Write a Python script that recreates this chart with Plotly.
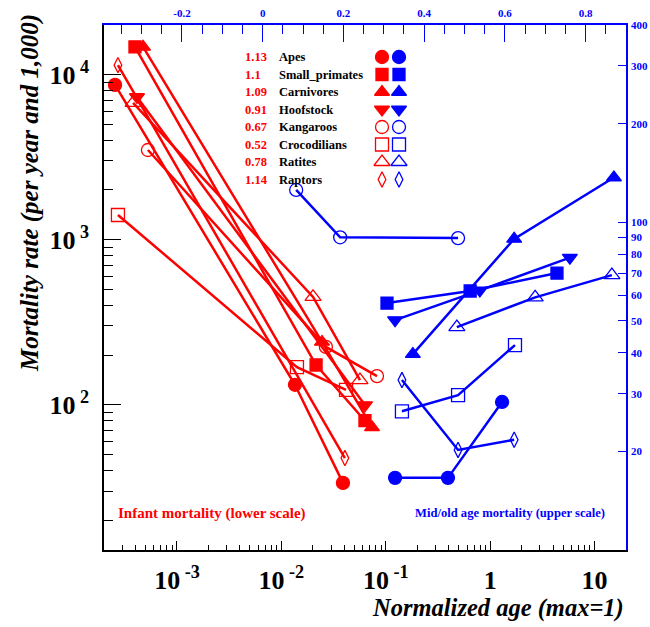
import numpy as np
import plotly.graph_objects as go

# ---------------- data ----------------
groups = ["Apes", "Small_primates", "Carnivores", "Hoofstock",
          "Kangaroos", "Crocodilians", "Ratites", "Raptors"]
slopes = ["1.13", "1.1", "1.09", "0.91", "0.67", "0.52", "0.78", "1.14"]
symbols = ["circle", "square", "triangle-up", "triangle-down",
           "circle-open", "square-open", "triangle-up-open", "diamond-tall-open"]
sizes = [13, 12, 13, 13, 13, 13, 14, 11]

# infant mortality (lower scale)
infant_age = [
    [2.55e-4, 0.0135, 0.0389],
    [3.96e-4, 0.0215, 0.0632],
    [4.73e-4, 0.0245, 0.0738],
    [4.14e-4, 0.0632],
    [5.27e-4, 0.0267, 0.0824],
    [2.72e-4, 0.0141, 0.0416],
    [3.80e-4, 0.0201, 0.0566],
    [2.72e-4, 0.0406],
]
infant_rate = [
    [8650, 132, 33.6],
    [14700, 174, 80],
    [14700, 240, 73],
    [7310, 99.5],
    [3490, 224, 149],
    [1410, 169, 123],
    [6730, 450, 141],
    [11400, 47.5],
]

# mid/old age mortality (upper scale)
old_age = [
    [0.328, 0.459, 0.593],
    [0.308, 0.514, 0.729],
    [0.372, 0.623, 0.870],
    [0.328, 0.538, 0.761],
    [0.083, 0.192, 0.484],
    [0.345, 0.484, 0.625],
    [0.481, 0.675, 0.865],
    [0.345, 0.484, 0.623],
]
old_rate = [
    [16.6, 16.6, 28.3],
    [56.7, 61.7, 70],
    [39.6, 89, 137],
    [50.3, 62, 78],
    [125.5, 90, 89.5],
    [26.5, 29.7, 42.2],
    [47.9, 59, 69],
    [33, 20.2, 21.7],
]

bottom_ticks = [1e-3, 1e-2, 1e-1, 1, 10]
bottom_labels = ["10<sup> -3</sup>", "10<sup> -2</sup>", "10<sup> -1</sup>", "1", "10"]
left_ticks = [100, 1000, 10000]
left_labels = ["10<sup> 2</sup>", "10<sup> 3</sup>", "10<sup> 4</sup>"]
top_ticks = [-0.2, 0, 0.2, 0.4, 0.6, 0.8]
top_labels = ["-0.2", "0", "0.2", "0.4", "0.6", "0.8"]
right_ticks = [20, 30, 40, 50, 60, 70, 80, 90, 100, 200, 300, 400]
right_labels = [str(v) for v in right_ticks]

RED = "#ff0000"
BLUE = "#0000ff"
SERIF = "Liberation Serif"

Y_LO, Y_HI = 1.12, 4.30   # log10 range of the left axis

fig = go.Figure()

for i in range(len(groups)):
    fig.add_trace(go.Scatter(
        x=infant_age[i], y=infant_rate[i], mode="lines+markers",
        line=dict(color=RED, width=2.5),
        marker=dict(symbol=symbols[i], size=sizes[i], color=RED,
                    line=dict(color=RED, width=1.3)),
        xaxis="x", yaxis="y", showlegend=False, name=groups[i]))
    fig.add_trace(go.Scatter(
        x=old_age[i], y=old_rate[i], mode="lines+markers",
        line=dict(color=BLUE, width=2.5),
        marker=dict(symbol=symbols[i], size=sizes[i], color=BLUE,
                    line=dict(color=BLUE, width=1.3)),
        xaxis="x2", yaxis="y2", showlegend=False, name=groups[i]))

# legend built on a hidden pixel-like axis
row0, drow = 57, 17.5
leg_y = [row0 + i * drow for i in range(len(groups))]
for i in range(len(groups)):
    for col, xc in ((RED, 382), (BLUE, 399)):
        fig.add_trace(go.Scatter(
            x=[xc], y=[leg_y[i]], mode="markers",
            marker=dict(symbol=symbols[i], size=sizes[i], color=col,
                        line=dict(color=col, width=1.3)),
            xaxis="x3", yaxis="y3", showlegend=False, hoverinfo="skip"))
    fig.add_annotation(x=243, y=leg_y[i], xref="x3", yref="y3", text=slopes[i],
                       showarrow=False, xanchor="left", yanchor="middle",
                       font=dict(family=SERIF, size=12.5, color=RED, weight="bold"))
    fig.add_annotation(x=277, y=leg_y[i], xref="x3", yref="y3", text=groups[i],
                       showarrow=False, xanchor="left", yanchor="middle",
                       font=dict(family=SERIF, size=12.5, color="black", weight="bold"))

def minor_log(lo, hi):
    vals = []
    for d in range(-5, 6):
        for m in range(2, 10):
            v = m * 10.0 ** d
            if lo <= v <= hi:
                vals.append(v)
    return vals

tickfont_big = dict(family=SERIF, size=26, color="black", weight="bold")
tickfont_blue = dict(family=SERIF, size=11, color=BLUE, weight="bold")

fig.update_layout(
    width=650, height=627,
    margin=dict(l=104, r=24, t=25, b=77, autoexpand=False),
    paper_bgcolor="white", plot_bgcolor="white",
    font=dict(family=SERIF),
    xaxis=dict(type="log", range=[np.log10(2e-4), np.log10(20)], automargin=False,
               tickmode="array", tickvals=bottom_ticks, ticktext=bottom_labels,
               ticks="inside", ticklen=9, tickwidth=1, tickcolor="black",
               showline=True, linecolor="black", linewidth=1.5,
               showgrid=False, zeroline=False, tickfont=tickfont_big,
               ticklabelstandoff=6,
               minor=dict(tickmode="array", tickvals=minor_log(2e-4, 20),
                          ticks="inside", ticklen=5, tickcolor="black", showgrid=False)),
    yaxis=dict(type="log", range=[Y_LO, Y_HI], automargin=False,
               tickmode="array", tickvals=left_ticks, ticktext=left_labels,
               ticks="inside", ticklen=17, tickwidth=1, tickcolor="black",
               showline=True, linecolor="black", linewidth=1.5,
               showgrid=False, zeroline=False, tickfont=tickfont_big,
               ticklabelstandoff=8,
               minor=dict(tickmode="array", tickvals=minor_log(10 ** Y_LO, 10 ** Y_HI),
                          ticks="inside", ticklen=9, tickcolor="black", showgrid=False)),
    xaxis2=dict(overlaying="x", side="top", range=[-0.393, 0.9], automargin=False,
                tickmode="array", tickvals=top_ticks, ticktext=top_labels,
                ticks="inside", ticklen=17, tickwidth=1, tickcolor=BLUE,
                showline=True, linecolor=BLUE, linewidth=1.5,
                showgrid=False, zeroline=False, tickfont=tickfont_blue,
                ticklabelstandoff=2,
                minor=dict(dtick=0.05, tick0=0, ticks="inside", ticklen=9,
                           tickcolor=BLUE, showgrid=False)),
    yaxis2=dict(type="log", overlaying="y", side="right", range=[1, np.log10(400)],
                automargin=False,
                tickmode="array", tickvals=right_ticks, ticktext=right_labels,
                ticks="inside", ticklen=8, tickwidth=1, tickcolor=BLUE,
                showline=True, linecolor=BLUE, linewidth=1.5,
                showgrid=False, zeroline=False, tickfont=tickfont_blue,
                ticklabelstandoff=1),
    yaxis4=dict(type="log", overlaying="y", side="right", range=[1, np.log10(400)],
                automargin=False,
                tickmode="array", tickvals=[100], ticks="inside", ticklen=18,
                tickcolor=BLUE, tickwidth=1, showticklabels=False, showline=False,
                showgrid=False, zeroline=False),
    xaxis3=dict(overlaying="x", range=[104, 626], visible=False, automargin=False),
    yaxis3=dict(overlaying="y", range=[550, 25], visible=False, automargin=False),
)

# texts
fig.add_annotation(x=116, y=513, xref="x3", yref="y3", text="Infant mortality (lower scale)",
                   showarrow=False, xanchor="left", yanchor="middle",
                   font=dict(family=SERIF, size=15, color=RED, weight="bold"))
fig.add_annotation(x=413, y=513, xref="x3", yref="y3", text="Mid/old age mortality (upper scale)",
                   showarrow=False, xanchor="left", yanchor="middle",
                   font=dict(family=SERIF, size=12.6, color=BLUE, weight="bold"))
fig.add_annotation(x=1.0, y=-0.11, xref="paper", yref="paper", text="Normalized age (max=1)",
                   showarrow=False, xanchor="right", yanchor="middle",
                   font=dict(family=SERIF, size=24.5, color="black", weight="bold", style="italic"))
fig.add_annotation(x=-0.142, y=0.680, xref="paper", yref="paper",
                   text="Mortality rate (per year and 1,000)", textangle=-90,
                   showarrow=False, xanchor="center", yanchor="middle",
                   font=dict(family=SERIF, size=25, color="black", weight="bold", style="italic"))

fig.write_html("out.html", config={"displayModeBar": False},
               post_script="document.body.style.margin='0px';")
